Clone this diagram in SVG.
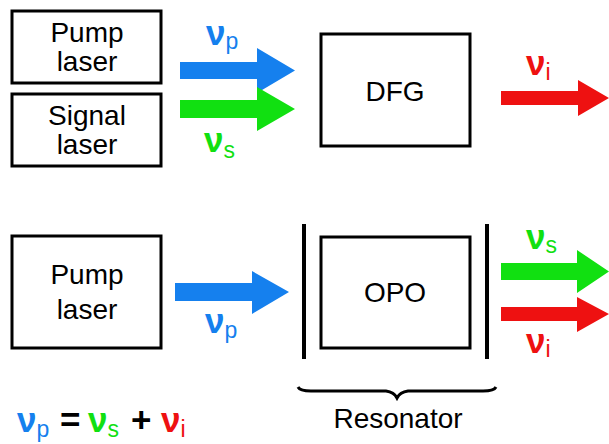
<svg xmlns="http://www.w3.org/2000/svg" width="609" height="444" viewBox="0 0 609 444">
<style>
.box{fill:#fff;stroke:#000;stroke-width:3}
.lbl{font-family:"Liberation Sans",Arial,sans-serif;font-size:28px;fill:#000;text-anchor:middle}
.nu{font-family:"Liberation Sans",Arial,sans-serif;font-size:35px;font-weight:bold}
.sub{font-size:23px;font-weight:normal}
.b{fill:#1580EE}.g{fill:#11E011}.r{fill:#EE1111}
.mirror{stroke:#000;stroke-width:4}
</style>
<rect width="609" height="444" fill="#fff"/>
<g id="pump1"><rect class="box" x="12" y="11" width="149" height="72"/><text class="lbl" x="87" y="42">Pump</text><text class="lbl" x="87" y="71">laser</text></g>
<g id="signal"><rect class="box" x="12" y="94" width="149" height="72"/><text class="lbl" x="87" y="125">Signal</text><text class="lbl" x="87" y="154">laser</text></g>
<g id="dfg"><rect class="box" x="321" y="34" width="149" height="112"/><text class="lbl" x="395" y="101">DFG</text></g>
<g id="pump2"><rect class="box" x="12" y="236" width="149" height="112"/><text class="lbl" x="87" y="284">Pump</text><text class="lbl" x="87" y="319">laser</text></g>
<g id="opo"><rect class="box" x="321" y="237" width="149" height="111"/><text class="lbl" x="395" y="302">OPO</text></g>
<g id="resonator">
<line class="mirror" x1="304" y1="224" x2="304" y2="359"/>
<line class="mirror" x1="487" y1="224" x2="487" y2="359"/>
<path d="M298,387 Q300,391 311,391 L386,391 Q394,392 397,398 Q400,392 408,391 L483,391 Q494,391 496,387" fill="none" stroke="#000" stroke-width="3"/>
<text class="lbl" x="398" y="428">Resonator</text>
</g>
<g id="connectors">
<polygon class="b" points="180,62 257,62 257,48 295,70.5 257,93 257,79 180,79"/>
<polygon class="g" points="180,100 257,100 257,87 295,109 257,131 257,118 180,118"/>
<polygon class="r" points="501,91 578,91 578,80 609,98 578,116 578,105 501,105"/>
<polygon class="b" points="175,283 252,283 252,271 289,292 252,314 252,301 175,301"/>
<polygon class="g" points="501,263 577,263 577,250 609,271.5 577,293 577,280 501,280"/>
<polygon class="r" points="501,307 577,307 577,297 609,314 577,332 577,321 501,321"/>
</g>
<g id="labels">
<text class="nu b" x="206" y="45">ν<tspan class="sub" dy="4">p</tspan></text>
<text class="nu g" x="204" y="152">ν<tspan class="sub" dy="6">s</tspan></text>
<text class="nu r" x="526" y="75">ν<tspan class="sub" dy="5">i</tspan></text>
<text class="nu b" x="205" y="333">ν<tspan class="sub" dy="5">p</tspan></text>
<text class="nu g" x="526" y="249">ν<tspan class="sub" dy="4">s</tspan></text>
<text class="nu r" x="526" y="353">ν<tspan class="sub" dy="4">i</tspan></text>
<text class="nu" x="17" y="432"><tspan class="b">ν</tspan><tspan class="b sub" dy="5">p</tspan><tspan dy="-5" x="60" style="fill:#000">=</tspan><tspan class="g" x="88">ν</tspan><tspan class="g sub" dy="5">s</tspan><tspan dy="-5" x="131" style="fill:#000">+</tspan><tspan class="r" x="161">ν</tspan><tspan class="r sub" dy="5">i</tspan></text>
</g>
</svg>
